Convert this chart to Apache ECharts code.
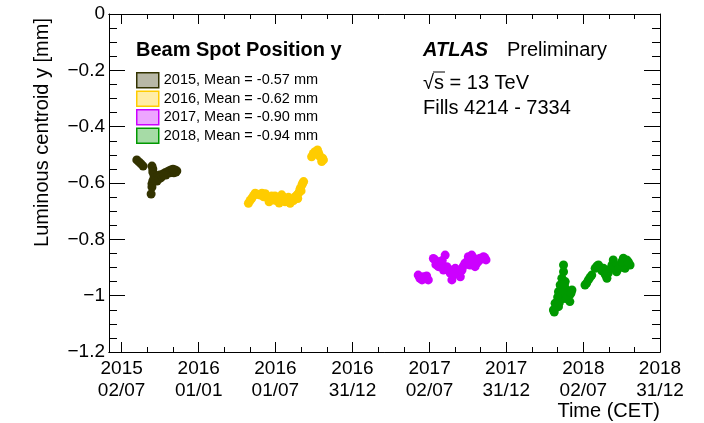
<!DOCTYPE html>
<html>
<head>
<meta charset="utf-8">
<script src="https://cdn.jsdelivr.net/npm/echarts@6/dist/echarts.min.js"></script>
<style>html,body{margin:0;padding:0;background:#fff;}#c{width:704px;height:423px;}</style>
</head>
<body>
<div id="c"></div>
<script>
// ---- tick labels / axis ----
const tickDates = ['2015-07-02','2016-01-01','2016-07-01','2016-12-31','2017-07-02','2017-12-31','2018-07-02','2018-12-31'];
const tickLabels = ['2015\n02/07','2016\n01/01','2016\n01/07','2016\n31/12','2017\n02/07','2017\n31/12','2018\n02/07','2018\n31/12'];
const xStart = '2015-06-02';
const xEnd = '2018-12-31';
const yTicks = [0, -0.2, -0.4, -0.6, -0.8, -1, -1.2];

// ---- series names ----
const seriesNames = ['2015, Mean = -0.57 mm','2016, Mean = -0.62 mm','2017, Mean = -0.90 mm','2018, Mean = -0.94 mm'];

// ---- 2015 ----
const dates2015 = ['2015-08-07','2015-08-12','2015-08-17','2015-08-22','2015-09-12','2015-09-14','2015-09-14','2015-09-17','2015-09-17','2015-09-14','2015-09-12','2015-09-12','2015-09-10','2015-09-21','2015-09-24','2015-09-26','2015-09-30','2015-10-03','2015-10-08','2015-10-13','2015-10-18','2015-10-22','2015-10-27','2015-10-31','2015-11-06','2015-11-10','2015-11-03','2015-10-25','2015-10-15','2015-09-19','2015-09-28','2015-10-05','2015-10-10','2015-11-08','2015-11-01'];
const vals2015 = [-0.518,-0.525,-0.532,-0.540,-0.540,-0.550,-0.561,-0.572,-0.582,-0.593,-0.603,-0.614,-0.639,-0.582,-0.593,-0.575,-0.572,-0.582,-0.568,-0.564,-0.561,-0.557,-0.554,-0.554,-0.554,-0.557,-0.564,-0.564,-0.572,-0.590,-0.585,-0.575,-0.572,-0.561,-0.551];

// ---- 2016 ----
const dates2016 = ['2016-04-28','2016-05-06','2016-05-14','2016-05-26','2016-06-03','2016-06-07','2016-06-11','2016-06-16','2016-06-19','2016-06-26','2016-06-30','2016-07-04','2016-07-10','2016-07-12','2016-07-20','2016-07-24','2016-07-28','2016-08-05','2016-08-09','2016-08-17','2016-08-25','2016-08-29','2016-09-02','2016-09-06','2016-09-25','2016-10-03','2016-10-09','2016-10-15','2016-10-19','2016-10-23','2016-05-30','2016-06-22','2016-07-16','2016-08-01','2016-08-13','2016-08-21','2016-09-04','2016-08-31','2016-05-02','2016-05-10','2016-05-20','2016-06-14','2016-07-07','2016-07-31','2016-08-23','2016-08-27','2016-09-29','2016-10-06','2016-10-12','2016-10-21'];
const vals2016 = [-0.672,-0.654,-0.636,-0.643,-0.649,-0.638,-0.651,-0.667,-0.658,-0.660,-0.646,-0.663,-0.671,-0.658,-0.651,-0.667,-0.658,-0.672,-0.660,-0.649,-0.636,-0.619,-0.607,-0.595,-0.507,-0.489,-0.483,-0.507,-0.524,-0.518,-0.636,-0.646,-0.642,-0.651,-0.662,-0.643,-0.600,-0.628,-0.662,-0.645,-0.640,-0.655,-0.652,-0.665,-0.655,-0.630,-0.495,-0.497,-0.495,-0.512];

// ---- 2017 ----
const dates2017 = ['2017-06-05','2017-06-14','2017-06-17','2017-06-25','2017-06-29','2017-07-15','2017-07-23','2017-07-31','2017-08-04','2017-08-08','2017-08-12','2017-08-20','2017-08-24','2017-09-01','2017-09-05','2017-09-13','2017-09-17','2017-09-24','2017-10-02','2017-10-06','2017-10-10','2017-10-14','2017-10-18','2017-10-22','2017-10-30','2017-11-07','2017-11-13','2017-07-19','2017-08-16','2017-09-09','2017-09-28','2017-10-26','2017-11-03','2017-07-27','2017-06-09','2017-06-21','2017-07-11','2017-08-28','2017-09-20','2017-10-04','2017-10-12','2017-10-20','2017-11-10','2017-08-01','2017-07-17'];
const vals2017 = [-0.927,-0.944,-0.933,-0.930,-0.944,-0.873,-0.897,-0.885,-0.909,-0.856,-0.897,-0.920,-0.944,-0.903,-0.920,-0.933,-0.909,-0.885,-0.862,-0.891,-0.856,-0.873,-0.897,-0.885,-0.867,-0.862,-0.873,-0.880,-0.905,-0.915,-0.880,-0.878,-0.870,-0.893,-0.938,-0.940,-0.868,-0.925,-0.895,-0.875,-0.890,-0.870,-0.865,-0.875,-0.890];

// ---- 2018 ----
const dates2018 = ['2018-05-16','2018-05-16','2018-05-12','2018-05-08','2018-05-20','2018-05-27','2018-06-05','2018-05-31','2018-05-16','2018-05-08','2018-05-04','2018-04-22','2018-04-26','2018-05-04','2018-05-20','2018-07-06','2018-07-14','2018-07-22','2018-07-30','2018-08-07','2018-08-19','2018-08-27','2018-08-30','2018-09-08','2018-09-11','2018-09-19','2018-09-27','2018-10-05','2018-10-09','2018-10-13','2018-10-21','2018-04-24','2018-05-24','2018-06-01','2018-05-10','2018-05-14','2018-05-18','2018-05-22','2018-05-28','2018-05-02','2018-04-28','2018-05-06','2018-05-18','2018-06-03','2018-07-10','2018-07-18','2018-08-03','2018-08-11','2018-08-15','2018-08-23','2018-09-15','2018-09-23','2018-10-01','2018-10-17','2018-09-04'];
const vals2018 = [-0.891,-0.915,-0.938,-0.962,-0.974,-0.998,-0.980,-1.021,-1.009,-1.015,-1.039,-1.051,-1.027,-0.986,-0.950,-0.962,-0.944,-0.927,-0.903,-0.891,-0.903,-0.938,-0.920,-0.891,-0.873,-0.915,-0.891,-0.867,-0.903,-0.873,-0.891,-1.058,-0.990,-0.995,-0.975,-0.990,-1.000,-1.010,-0.985,-1.005,-1.040,-1.025,-0.960,-0.990,-0.955,-0.935,-0.895,-0.900,-0.912,-0.925,-0.895,-0.905,-0.880,-0.880,-0.905];

const markerColors = ['#333300','#ffcc00','#cc00ff','#009900'];
const legendFills = ['#b8b8a6','#ffeda6','#eda6ff','#a6dba6'];

const ms = s => new Date(s + 'T00:00:00Z').getTime();
const FONT = '"Liberation Sans", Arial, Helvetica, sans-serif';

const majorVals = tickDates.map(ms);
const minorVals = [];
for (let i = 0; i < majorVals.length - 1; i++) {
  const step = (majorVals[i+1] - majorVals[i]) / 3;
  minorVals.push(majorVals[i] + step, majorVals[i] + 2*step);
}
const xMin = ms(xStart), xMax = ms(xEnd);

function pts(d, v) { return d.map((s, i) => [ms(s), v[i]]); }
const allData = [pts(dates2015, vals2015), pts(dates2016, vals2016), pts(dates2017, vals2017), pts(dates2018, vals2018)];

const black = {color:'#000', width:1};
function xAx(pos, major, showLabel) {
  return {
    type:'value', min:xMin, max:xMax, position:pos, scale:true,
    axisLine:{show:true, onZero:false, lineStyle:black},
    axisTick:{show:true, inside:true, length: major ? 10 : 5, customValues: major ? majorVals : minorVals, lineStyle:black},
    axisLabel: showLabel ? {
      show:true, customValues: majorVals, color:'#000', fontSize:19, fontFamily:FONT, lineHeight:22, margin:6,
      formatter: v => { let best = 0; majorVals.forEach((m,i)=>{ if (Math.abs(m - v) < Math.abs(majorVals[best] - v)) best = i; }); return tickLabels[best]; }
    } : {show:false},
    splitLine:{show:false}
  };
}
function yAx(pos, showLabel) {
  return {
    type:'value', min:yTicks[yTicks.length-1], max:yTicks[0], interval:0.2, position:pos,
    axisLine:{show:true, onZero:false, lineStyle:black},
    axisTick:{show:true, inside:true, length:16, lineStyle:black},
    minorTick:{show:true, splitNumber:4, length:8, lineStyle:black},
    axisLabel: showLabel ? {
      show:true, color:'#000', fontSize:19, fontFamily:FONT, margin:4,
      formatter: v => { const r = Math.round(v*10)/10; return r === 0 ? '0' : (r < 0 ? '\u2212' : '') + String(Math.abs(r)); }
    } : {show:false},
    splitLine:{show:false}, minorSplitLine:{show:false}
  };
}

const chart = echarts.init(document.getElementById('c'), null, {renderer:'canvas'});
chart.setOption({
  animation:false,
  backgroundColor:'#fff',
  grid:{left:109, right:44, top:14, bottom:71},
  xAxis:[xAx('bottom', true, true), xAx('bottom', false, false), xAx('top', true, false), xAx('top', false, false)],
  yAxis:[yAx('left', true), yAx('right', false)],
  legend:{
    orient:'vertical', left:136, top:72, padding:0, itemWidth:22, itemHeight:15, itemGap:2,
    textStyle:{fontSize:14.5, fontFamily:FONT, color:'#000'},
    selectedMode:false,
    data: seriesNames.map((n,i)=>({name:n, icon:'rect', itemStyle:{color:legendFills[i], borderColor:markerColors[i], borderWidth:1.5}}))
  },
  series: allData.map((d,i)=>({
    name: seriesNames[i], type:'scatter', xAxisIndex:0, yAxisIndex:0,
    symbol:'circle', symbolSize:9, data:d,
    itemStyle:{color:markerColors[i], opacity:1}
  })),
  graphic:[
    {type:'text', x:42, y:18, rotation:Math.PI/2, style:{text:'Luminous centroid y [mm]', font:'20px '+FONT, fill:'#000', align:'right', verticalAlign:'middle'}},
    {type:'text', x:660, y:411, style:{text:'Time (CET)', font:'20px '+FONT, fill:'#000', align:'right', verticalAlign:'middle'}},
    {type:'text', x:136, y:50, style:{text:'Beam Spot Position y', font:'bold 20px '+FONT, fill:'#000', align:'left', verticalAlign:'middle'}},
    {type:'text', x:423, y:50, style:{text:'ATLAS', font:'italic bold 20px '+FONT, fill:'#000', align:'left', verticalAlign:'middle'}},
    {type:'text', x:507, y:50, style:{text:'Preliminary', font:'20px '+FONT, fill:'#000', align:'left', verticalAlign:'middle'}},
    {type:'text', x:423, y:83, style:{text:'\u221As = 13 TeV', font:'20px '+FONT, fill:'#000', align:'left', verticalAlign:'middle'}},
    {type:'line', shape:{x1:433, y1:72, x2:445, y2:72}, style:{stroke:'#000', lineWidth:1}},
    {type:'text', x:423, y:108, style:{text:'Fills 4214 - 7334', font:'20px '+FONT, fill:'#000', align:'left', verticalAlign:'middle'}}
  ]
});
</script>
</body>
</html>
